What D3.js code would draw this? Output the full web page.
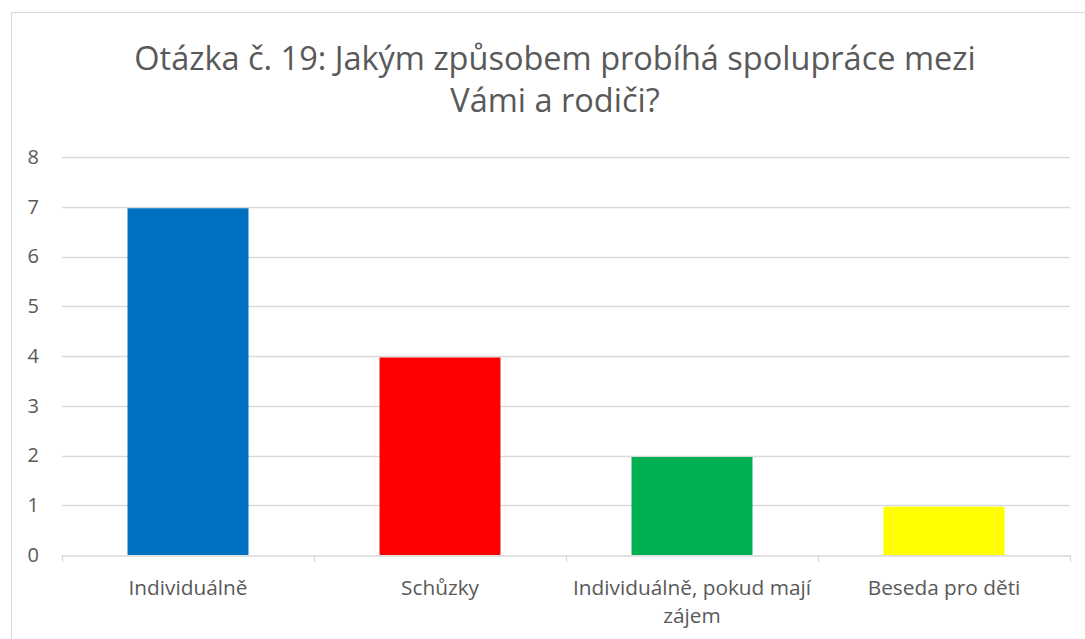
<!DOCTYPE html>
<html>
<head>
<meta charset="utf-8">
<script src="https://cdn.jsdelivr.net/npm/d3@7"></script>
<style>
  body { margin: 0; background: #fff; }
  text { font-family: "Open Sans", "Noto Sans", sans-serif; fill: #595959; }
</style>
</head>
<body>
<svg id="chart" width="1085" height="639"></svg>
<script>
// chart data
var categories = ["Individuálně", "Schůzky", "Individuálně, pokud mají zájem", "Beseda pro děti"];
var counts = [7, 4, 2, 1];
var barColors = ["#0070c0", "#ff0000", "#00b050", "#ffff00"];
var yTicks = [0, 1, 2, 3, 4, 5, 6, 7, 8];
var titleLines = ["Otázka č. 19: Jakým způsobem probíhá spolupráce mezi", "Vámi a rodiči?"];

var svg = d3.select('#chart');

// chart frame
svg.append('rect')
    .attr('x', 11.5).attr('y', 12.5)
    .attr('width', 1090).attr('height', 640)
    .attr('fill', 'none')
    .attr('stroke', '#d9d9d9');

var margin = {left: 62, right: 15, top: 157, bottom: 84};
var width = 1085 - margin.left - margin.right;
var height = 639 - margin.top - margin.bottom;

var g = svg.append('g')
    .attr('transform', 'translate(' + margin.left + ',' + margin.top + ')');

var x = d3.scaleBand()
    .domain(categories)
    .range([0, width])
    .paddingInner(0.52)
    .paddingOuter(0.26);

var y = d3.scaleLinear()
    .domain([0, 8])
    .range([height, 0]);

// gridlines
g.selectAll('.grid')
    .data(yTicks.filter(function(d){ return d > 0; }))
    .enter()
    .append('line')
        .attr('x1', 0).attr('x2', width)
        .attr('y1', function(d){ return Math.round(y(d)) + 0.5; })
        .attr('y2', function(d){ return Math.round(y(d)) + 0.5; })
        .attr('stroke', '#d9d9d9')
        .attr('stroke-width', 1.3);

// bars
g.selectAll('.bar')
    .data(counts)
    .enter()
    .append('rect')
        .attr('x', function(d, i){ return x(categories[i]); })
        .attr('y', function(d){ return y(d) + 1.5; })
        .attr('width', x.bandwidth())
        .attr('height', function(d){ return height - y(d) - 1.5; })
        .attr('fill', function(d, i){ return barColors[i]; });

// x axis
var xAxis = d3.axisBottom(x).tickSize(0).tickFormat('');
var xg = g.append('g')
    .attr('transform', 'translate(0,' + (Math.round(height) + 0.5) + ')')
    .call(xAxis);
xg.select('.domain').attr('stroke', '#d9d9d9').attr('stroke-width', 1.3);

// category separator ticks
var sepPos = d3.range(categories.length + 1).map(function(i){ return i * width / categories.length; });
g.selectAll('.sep')
    .data(sepPos)
    .enter()
    .append('line')
        .attr('x1', function(d){ return Math.round(d) + 0.5; })
        .attr('x2', function(d){ return Math.round(d) + 0.5; })
        .attr('y1', Math.round(height))
        .attr('y2', Math.round(height) + 7)
        .attr('stroke', '#d9d9d9')
        .attr('stroke-width', 1.3);

// category labels, wrapped
var labelLines = {"Individuálně, pokud mají zájem": ["Individuálně, pokud mají", "zájem"]};
categories.forEach(function(c){
    var lines = labelLines[c] || [c];
    var t = g.append('text')
        .attr('x', x(c) + x.bandwidth() / 2)
        .attr('y', height + 40)
        .attr('text-anchor', 'middle')
        .style('font-size', '20.8px');
    lines.forEach(function(l, i){
        t.append('tspan')
            .attr('x', x(c) + x.bandwidth() / 2)
            .attr('dy', i === 0 ? 0 : 28)
            .text(l);
    });
});

// y labels
var yAxis = d3.axisLeft(y).tickValues(yTicks).tickSize(0).tickPadding(23);
var yg = g.append('g').call(yAxis);
yg.select('.domain').remove();
yg.selectAll('text')
    .style('font-size', '20px')
    .style('font-family', '"Open Sans", "Noto Sans", sans-serif')
    .attr('fill', '#595959');

// title
var title = svg.append('text')
    .attr('text-anchor', 'middle')
    .attr('y', 70)
    .style('font-size', '32.5px');
titleLines.forEach(function(l, i){
    title.append('tspan')
        .attr('x', 555)
        .attr('dy', i === 0 ? 0 : 42)
        .text(l);
});
</script>
</body>
</html>
